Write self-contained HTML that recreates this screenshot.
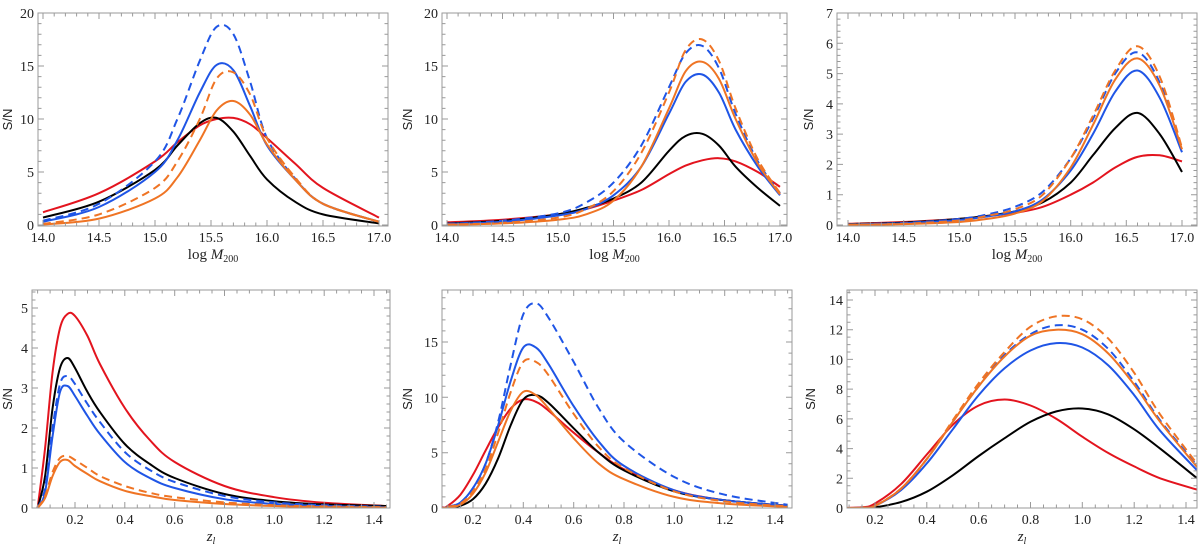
<!DOCTYPE html>
<html><head><meta charset="utf-8"><style>
html,body{margin:0;padding:0;background:#fff;}
svg{display:block;}
text{font-family:"Liberation Serif",serif;fill:#222;}
</style></head><body>
<svg id="chart" width="1200" height="545" viewBox="0 0 1200 545" xmlns="http://www.w3.org/2000/svg"></svg>
<script>
// ---- Data ----
const seriesNames = ["red","black","blue","blueDashed","orangeDashed","orange"];
// Panel 1
const p1X = [14,14.5,15,15.2,15.4,15.55,15.7,15.85,16,16.25,16.5,17];
const p1Red = [1.2,3.0,6.0,7.8,9.4,10.0,10.1,9.5,8.2,5.8,3.5,0.7];
const p1Black = [0.7,2.2,5.2,7.5,9.6,10.1,8.8,6.5,4.3,2.2,1.0,0.15];
const p1Blue = [0.3,1.7,5.0,8.0,12.5,15.1,14.6,11.2,7.5,4.3,2.0,0.3];
const p1BlueDashed = [0.4,2.0,6.0,10.0,15.5,18.7,18.0,13.5,8.2,4.4,2.0,0.3];
const p1OrangeDashed = [0.1,1.0,3.5,6.0,10.0,13.8,14.4,12.3,8.2,4.5,2.0,0.3];
const p1Orange = [0.05,0.6,2.5,4.5,8.0,10.8,11.7,10.4,7.6,4.3,2.0,0.3];
// Panel 2
const p2X = [14,14.5,15,15.25,15.5,15.75,16,16.15,16.3,16.45,16.6,16.8,17];
const p2Red = [0.25,0.5,1.0,1.5,2.3,3.3,4.8,5.6,6.1,6.3,6.0,5.0,3.6];
const p2Black = [0.15,0.4,1.0,1.6,2.5,4.0,7.0,8.4,8.6,7.5,5.5,3.5,1.8];
const p2Blue = [0.1,0.3,0.9,1.5,2.8,5.5,10.5,13.5,14.2,12.5,9.0,5.5,2.8];
const p2BlueDashed = [0.1,0.4,1.1,2.1,4.0,7.5,13.0,16.2,16.9,14.8,10.5,6.0,3.0];
const p2OrangeDashed = [0.05,0.2,0.7,1.5,3.2,6.8,12.5,16.5,17.5,15.5,11.0,6.2,3.0];
const p2Orange = [0.02,0.15,0.5,1.0,2.3,5.5,11.0,14.5,15.4,13.8,10.0,5.8,2.9];
// Panel 3
const p3X = [14,14.5,15,15.25,15.5,15.75,16,16.2,16.4,16.6,16.8,17];
const p3Red = [0.04,0.1,0.2,0.3,0.4,0.6,1.0,1.4,1.9,2.25,2.3,2.1];
const p3Black = [0.03,0.08,0.2,0.3,0.45,0.75,1.4,2.3,3.2,3.7,3.0,1.75];
const p3Blue = [0.02,0.06,0.17,0.28,0.45,0.85,1.8,3.0,4.4,5.1,4.2,2.4];
const p3BlueDashed = [0.02,0.07,0.2,0.35,0.6,1.1,2.2,3.5,5.0,5.7,4.7,2.5];
const p3OrangeDashed = [0.01,0.04,0.15,0.3,0.52,1.0,2.2,3.6,5.1,5.9,4.9,2.55];
const p3Orange = [0.01,0.03,0.1,0.2,0.38,0.8,1.9,3.3,4.8,5.5,4.6,2.5];
// Panel 4
const p4X = [0.05,0.08,0.11,0.14,0.17,0.2,0.25,0.3,0.4,0.5,0.6,0.8,1.0,1.2,1.45];
const p4Red = [0,1.5,3.4,4.5,4.85,4.8,4.3,3.6,2.5,1.7,1.15,0.55,0.27,0.13,0.05];
const p4Black = [0,0.8,2.5,3.5,3.75,3.5,2.9,2.4,1.6,1.1,0.75,0.35,0.17,0.09,0.05];
const p4Blue = [0,0.4,1.8,2.9,3.05,2.8,2.3,1.85,1.15,0.75,0.5,0.22,0.1,0.05,0.02];
const p4BlueDashed = [0,0.5,2.0,3.1,3.3,3.1,2.6,2.15,1.4,0.95,0.65,0.3,0.14,0.07,0.03];
const p4OrangeDashed = [0,0.3,0.9,1.25,1.3,1.2,1.0,0.8,0.55,0.38,0.27,0.14,0.07,0.04,0.02];
const p4Orange = [0,0.25,0.8,1.15,1.2,1.05,0.85,0.67,0.43,0.3,0.2,0.1,0.05,0.02,0.01];
// Panel 5
const p5X = [0.05,0.08,0.1,0.15,0.2,0.25,0.3,0.35,0.4,0.45,0.5,0.6,0.7,0.8,1.0,1.2,1.45];
const p5Red = [0.4,0.05,0.2,1.2,3.0,5.2,7.3,9.0,9.8,9.6,8.8,6.8,5.0,3.5,1.6,0.7,0.2];
const p5Black = [0,0,0,0.2,0.8,2.2,4.5,7.5,9.8,10.2,9.5,7.2,5.0,3.4,1.5,0.7,0.2];
const p5Blue = [0,0,0.1,0.5,1.8,4.0,7.5,11.5,14.5,14.5,13.0,9.2,6.0,3.8,1.6,0.7,0.2];
const p5BlueDashed = [0,0,0.1,0.5,1.8,4.0,7.8,13.0,17.5,18.5,17.2,13.2,9.0,6.0,2.8,1.2,0.3];
const p5OrangeDashed = [0,0,0.1,0.4,1.5,3.5,6.8,10.5,13.2,13.2,12.0,8.5,5.5,3.6,1.5,0.6,0.15];
const p5Orange = [0,0,0.05,0.3,1.3,3.2,6.0,8.8,10.5,10.2,9.0,6.3,4.0,2.6,1.0,0.4,0.1];
// Panel 6
const p6X = [0.05,0.15,0.2,0.3,0.4,0.5,0.6,0.7,0.8,0.9,1.0,1.1,1.2,1.3,1.45];
const p6Red = [0,0.05,0.3,1.6,3.6,5.6,6.9,7.3,6.9,6.0,4.8,3.7,2.8,2.0,1.2];
const p6Black = [0,0,0.05,0.4,1.1,2.2,3.5,4.7,5.8,6.5,6.7,6.3,5.3,4.0,1.9];
const p6Blue = [0,0.02,0.15,1.2,3.0,5.3,7.6,9.4,10.6,11.1,10.8,9.6,7.6,5.2,2.4];
const p6BlueDashed = [0,0.02,0.16,1.3,3.3,5.8,8.2,10.3,11.7,12.3,12.0,10.7,8.5,5.9,2.7];
const p6OrangeDashed = [0,0.02,0.15,1.3,3.3,5.9,8.4,10.5,12.2,12.9,12.7,11.4,9.1,6.3,2.8];
const p6Orange = [0,0.02,0.15,1.3,3.3,5.8,8.2,10.2,11.6,12.0,11.7,10.4,8.3,5.8,2.6];
// Tick labels
const massTicks = ["14.0","14.5","15.0","15.5","16.0","16.5","17.0"];
const zTicks = ["0.2","0.4","0.6","0.8","1.0","1.2","1.4"];
const yTicksA = ["0","5","10","15","20"];
const yTicks3 = ["0","1","2","3","4","5","6","7"];
const yTicks4 = ["0","1","2","3","4","5"];
const yTicks5 = ["0","5","10","15"];
const yTicks6 = ["0","2","4","6","8","10","12","14"];

const NS="http://www.w3.org/2000/svg";
const svg=document.getElementById('chart');
function mk(tag,attrs,parent){const e=document.createElementNS(NS,tag);for(const k in attrs)e.setAttribute(k,attrs[k]);(parent||svg).appendChild(e);return e;}

const styles={red:{c:"#e3141e",d:null},black:{c:"#000",d:null},blue:{c:"#1f55e6",d:null},blueDashed:{c:"#1f55e6",d:"8,5"},orangeDashed:{c:"#ef7424",d:"8,5"},orange:{c:"#ef7424",d:null}};

const panels=[
 {id:1,box:[38,13,388,226],x0:14,x1:17,px0:43,px1:379,y0:0,y1:20,py0:225,py1:13,xt:massTicks,xmaj:0.5,xmin:0.1,yt:yTicksA,ymaj:5,ymin:1,xmr:[14,17],ymr:[0,20],xl:"mass",ylx:12,X:p1X,S:[p1Red,p1Black,p1Blue,p1BlueDashed,p1OrangeDashed,p1Orange]},
 {id:2,box:[442,13,787,226],x0:14,x1:17,px0:447,px1:780,y0:0,y1:20,py0:225,py1:13,xt:massTicks,xmaj:0.5,xmin:0.1,yt:yTicksA,ymaj:5,ymin:1,xmr:[14,17],ymr:[0,20],xl:"mass",ylx:412,X:p2X,S:[p2Red,p2Black,p2Blue,p2BlueDashed,p2OrangeDashed,p2Orange]},
 {id:3,box:[837,13,1197,226],x0:14,x1:17,px0:848,px1:1182,y0:0,y1:7,py0:225,py1:13,xt:massTicks,xmaj:0.5,xmin:0.1,yt:yTicks3,ymaj:1,ymin:0.2,xmr:[14,17],ymr:[0,7],xl:"mass",ylx:813,X:p3X,S:[p3Red,p3Black,p3Blue,p3BlueDashed,p3OrangeDashed,p3Orange]},
 {id:4,box:[32,290,390,508],x0:0.2,x1:1.4,px0:75,px1:374,y0:0,y1:5,py0:508,py1:308,xt:zTicks,xmaj:0.2,xmin:0.05,yt:yTicks4,ymaj:1,ymin:0.2,xmr:[0,1.5],ymr:[0,5.4],xl:"z",ylx:12,X:p4X,S:[p4Red,p4Black,p4Blue,p4BlueDashed,p4OrangeDashed,p4Orange]},
 {id:5,box:[442,290,792,508],x0:0.2,x1:1.4,px0:473,px1:775,y0:0,y1:15,py0:508,py1:342,xt:zTicks,xmaj:0.2,xmin:0.05,yt:yTicks5,ymaj:5,ymin:1,xmr:[0,1.5],ymr:[0,19.5],xl:"z",ylx:412,X:p5X,S:[p5Red,p5Black,p5Blue,p5BlueDashed,p5OrangeDashed,p5Orange]},
 {id:6,box:[847,290,1197,508],x0:0.2,x1:1.4,px0:875,px1:1186,y0:0,y1:14,py0:508,py1:300,xt:zTicks,xmaj:0.2,xmin:0.05,yt:yTicks6,ymaj:2,ymin:0.5,xmr:[0,1.5],ymr:[0,14.5],xl:"z",ylx:815,X:p6X,S:[p6Red,p6Black,p6Blue,p6BlueDashed,p6OrangeDashed,p6Orange]}
];

function smooth(pts){
  let d="M"+pts[0][0].toFixed(1)+","+pts[0][1].toFixed(1);
  for(let i=0;i<pts.length-1;i++){
    const p0=pts[Math.max(0,i-1)],p1=pts[i],p2=pts[i+1],p3=pts[Math.min(pts.length-1,i+2)];
    const c1x=p1[0]+(p2[0]-p0[0])/6,c1y=p1[1]+(p2[1]-p0[1])/6;
    const c2x=p2[0]-(p3[0]-p1[0])/6,c2y=p2[1]-(p3[1]-p1[1])/6;
    d+=" C"+c1x.toFixed(1)+","+c1y.toFixed(1)+" "+c2x.toFixed(1)+","+c2y.toFixed(1)+" "+p2[0].toFixed(1)+","+p2[1].toFixed(1);
  }
  return d;
}

panels.forEach(p=>{
  const g=mk('g',{});
  
  
  const sx=v=>p.px0+(v-p.x0)*(p.px1-p.px0)/(p.x1-p.x0);
  const sy=v=>p.py0+(v-p.y0)*(p.py1-p.py0)/(p.y1-p.y0);
  const [L,T,R,B]=p.box;
  const clipId='clip'+p.id;
  const cp=mk('clipPath',{id:clipId},g);mk('rect',{x:L,y:T,width:R-L,height:B-T},cp);
  const sg=mk('g',{'clip-path':'url(#'+clipId+')'},g);
  p.S.forEach((ys,i)=>{
    const st=styles[seriesNames[i]];
    const pts=p.X.map((x,j)=>[sx(x),sy(ys[j])]);
    const path=mk('path',{d:smooth(pts),fill:'none',stroke:st.c,'stroke-width':2,'stroke-linejoin':'round'},sg);
    if(st.d)path.setAttribute('stroke-dasharray',st.d);
    
    
  });
  const fr=mk('rect',{x:L,y:T,width:R-L,height:B-T,fill:'none',stroke:'#9a9a9a','stroke-width':1},g);
  
  
  let td="";
  const eps=1e-6;
  for(let k=Math.ceil(p.xmr[0]/p.xmin-eps); k*p.xmin<=p.xmr[1]+eps; k++){
    const v=k*p.xmin;
    const x=sx(v); if(x<L||x>R)continue;
    const maj=Math.abs(v/p.xmaj-Math.round(v/p.xmaj))<1e-4;
    const len=maj?6:3.5;
    td+=`M${x.toFixed(1)},${B}v${-len}M${x.toFixed(1)},${T}v${len}`;
  }
  for(let k=Math.ceil(p.ymr[0]/p.ymin-eps); k*p.ymin<=p.ymr[1]+eps; k++){
    const v=k*p.ymin;
    const y=sy(v); if(y<T-0.5||y>B+0.5)continue;
    const maj=Math.abs(v/p.ymaj-Math.round(v/p.ymaj))<1e-4;
    const len=maj?6:3.5;
    td+=`M${L},${y.toFixed(1)}h${len}M${R},${y.toFixed(1)}h${-len}`;
  }
  mk('path',{d:td,stroke:'#9a9a9a','stroke-width':1,fill:'none'},g);
  p.xt.forEach(t=>{
    const tx=mk('text',{x:sx(parseFloat(t)),y:B+16,'text-anchor':'middle','font-size':14},g);
    tx.textContent=t;
    
    
  });
  p.yt.forEach(t=>{
    const ty=mk('text',{x:L-4,y:sy(parseFloat(t))+5,'text-anchor':'end','font-size':14},g);
    ty.textContent=t;
    
    
  });
  const cy=(T+B)/2;
  const yl=mk('text',{x:p.ylx,y:cy,'text-anchor':'middle','font-size':13,transform:`rotate(-90 ${p.ylx} ${cy})`,style:'font-family:"Liberation Sans",sans-serif'},g);
  yl.textContent="S/N";
  
  
  const cx=(L+R)/2;
  const xl=mk('text',{x:cx,y:B+33,'text-anchor':'middle','font-size':15},g);
  
  
  if(p.xl==="mass"){
    xl.innerHTML='log <tspan font-style="italic">M</tspan><tspan font-size="10" dy="3">200</tspan>';
  } else {
    xl.innerHTML='<tspan font-style="italic">z</tspan><tspan font-size="10" font-style="italic" dy="3">l</tspan>';
  }
});
</script>
</body></html>
